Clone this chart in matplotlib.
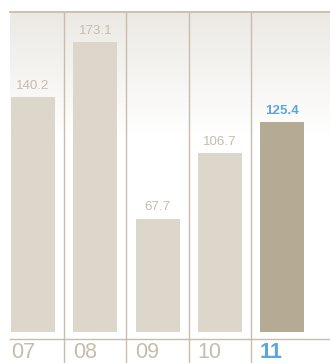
import numpy as np
import matplotlib
matplotlib.use("Agg")
import matplotlib.pyplot as plt
from matplotlib.colors import LinearSegmentedColormap

years = ["07", "08", "09", "10", "11"]
values = [140.2, 173.1, 67.7, 106.7, 125.4]

BAR = "#ddd6cb"
BAR_HI = "#b5aa93"
LINE = "#c8bcac"
TXT = "#c6bcae"
BLUE = "#5ca6df"
FONT = ["Liberation Sans", "DejaVu Sans"]

W, H = 330, 363
fig = plt.figure(figsize=(W / 100, H / 100), dpi=100)
fig.patch.set_facecolor("white")

# axes: x from pixel 10 to 330, y from pixel 12 (top rule) to 339 (bottom rule)
ax = fig.add_axes([10 / W, 1 - 339 / H, 320 / W, 327 / H])
x = np.arange(len(years))
ax.set_xlim(-0.37, 4.77)
ax.set_ylim(-4.18, 190.9)

# soft gray-to-white wash at the top of the columns
grad = LinearSegmentedColormap.from_list(
    "wash", [(0, "#ffffff"), (0.62, "#ffffff"), (1, "#ece9e4")])
g = np.linspace(0, 1, 256).reshape(-1, 1)
ax.imshow(g, cmap=grad, aspect="auto", extent=(-0.37, 4.77, -4.18, 190.9),
          origin="lower", zorder=0)

colors = [BAR] * (len(values) - 1) + [BAR_HI]
bars = ax.bar(x, values, width=0.707, color=colors, zorder=2)

for i, (b, v) in enumerate(zip(bars, values)):
    last = i == len(values) - 1
    ax.annotate(f"{v:.1f}", (b.get_x() + b.get_width() / 2, v),
                xytext=(0, 5.8), textcoords="offset points",
                ha="center", va="baseline", fontsize=9.6, family=FONT,
                color=BLUE if last else TXT,
                fontweight="bold" if last else "normal", zorder=3)

# column separators, running down past the bottom rule
ax.vlines(x[:-1] + 0.5, -0.08, 1, transform=ax.get_xaxis_transform(),
          color=LINE, lw=1.0, clip_on=False, zorder=3)
ax.axhline(190.9, color=LINE, lw=1.3, zorder=3, clip_on=False)
ax.axhline(-4.18, color=LINE, lw=1.0, zorder=3, clip_on=False)

# year labels sit left-aligned under each bar
for i, (b, yr) in enumerate(zip(bars, years)):
    last = i == len(years) - 1
    ax.text(b.get_x(), -0.0596, yr, transform=ax.get_xaxis_transform(),
            ha="left", va="baseline", fontsize=15.5, family=FONT,
            color=BLUE if last else TXT,
            fontweight="bold" if last else "normal")

ax.set_axis_off()
fig.savefig("out.png", dpi=100, facecolor="white")
